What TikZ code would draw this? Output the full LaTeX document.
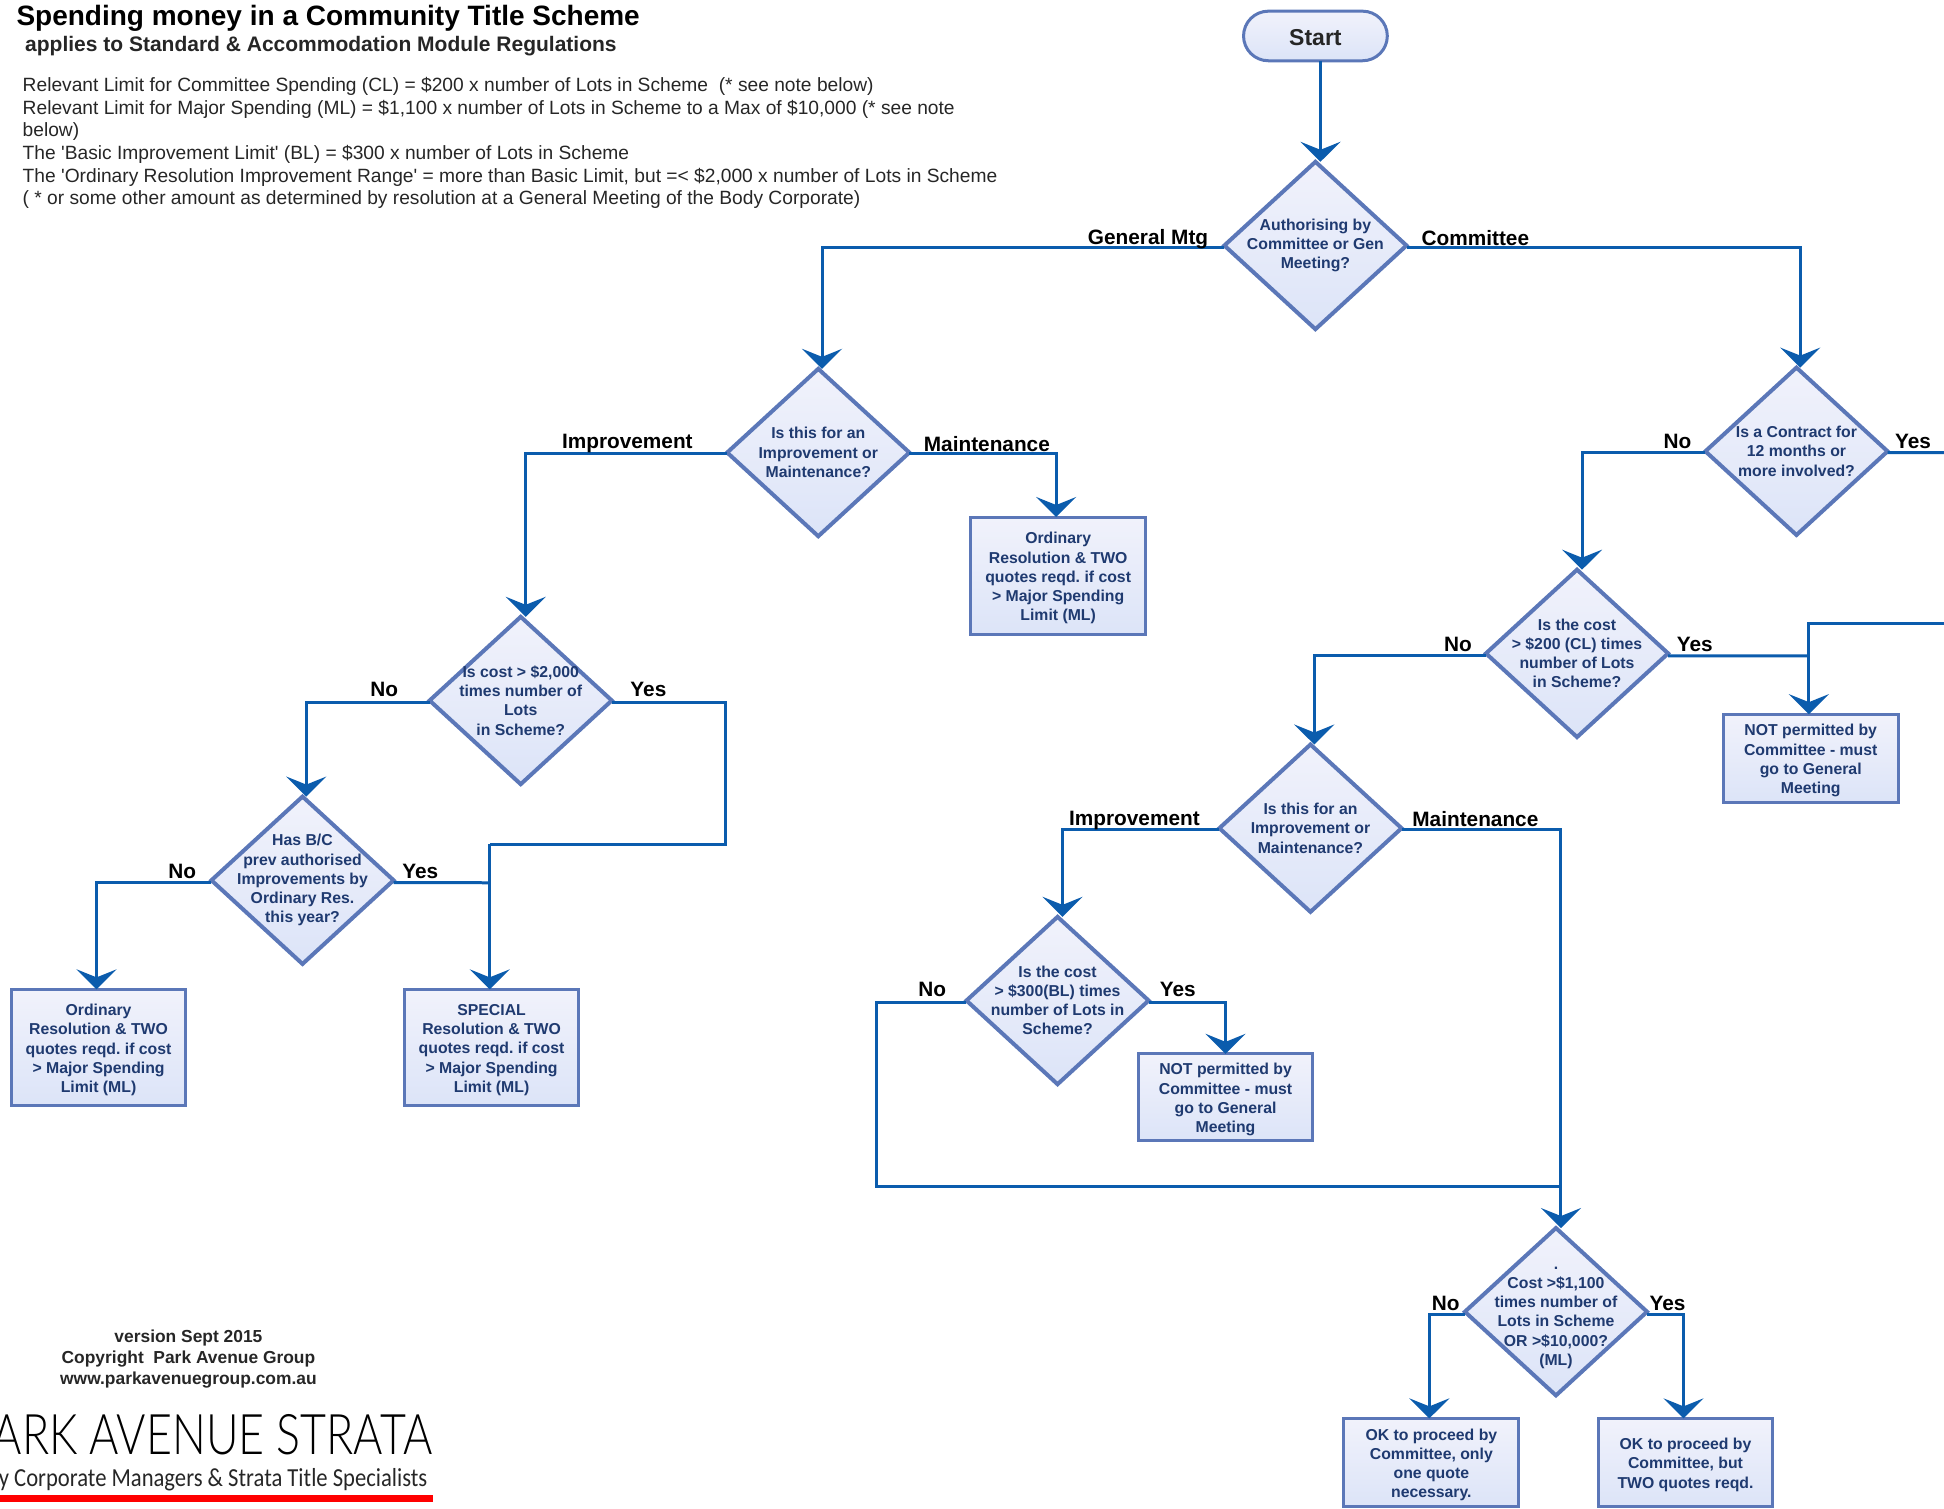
\documentclass[tikz,border=0pt]{standalone}
\usepackage{fontspec}
\setmainfont{Liberation Sans}
\newfontfamily\logofont[FakeStretch=0.8]{Lato Light}
\newfontfamily\logosubfont[FakeStretch=0.87]{Carlito}
\usetikzlibrary{arrows.meta}
\usetikzlibrary{shapes.geometric}
\usetikzlibrary{shapes.misc}
\definecolor{flowblue}{HTML}{0B5CAD}
\definecolor{edgeblue}{HTML}{5B77B8}
\definecolor{inkblue}{HTML}{1F3A70}
\definecolor{fillupper}{HTML}{F1F2FB}
\definecolor{filllower}{HTML}{DCE4F8}
\frenchspacing
\tikzset{
    flow/.style={draw=flowblue,line width=1.5pt},
    flowarrow/.style={flow,-{Stealth[length=10pt,width=20pt,inset=4pt]}},
    shaded/.style={draw=edgeblue,top color=fillupper,bottom color=filllower,outer sep=0pt,inner sep=0pt},
    decision/.style={shaded,diamond,line width=2pt,minimum width=91.1pt,minimum height=83.7pt},
    decisiontext/.style={text=inkblue,font=\bfseries\fontsize{7.9}{9.6}\selectfont,align=center,inner sep=0pt},
    outcome/.style={shaded,rectangle,line width=1.5pt,minimum width=87.4pt},
    outcometext/.style={decisiontext,yshift=-1.2pt},
    branch/.style={font=\bfseries\fontsize{10.4}{12}\selectfont,text=black,inner sep=0pt},
    terminal/.style={shaded,rounded rectangle,line width=1.5pt,minimum width=71.9pt,minimum height=24.8pt},
    terminaltext/.style={font=\bfseries\fontsize{11.5}{13}\selectfont,text=black!85,inner sep=0pt,yshift=-0.8pt},
    notes/.style={align=left,anchor=north west,inner sep=0pt,text=black!85,font=\fontsize{9.6}{11.35}\selectfont}
}
\begin{document}
\begin{tikzpicture}[x=0.62pt,y=-0.62pt]
    \useasboundingbox (0,0) rectangle (1568,1217);

    \node[anchor=west,inner sep=0pt,font=\bfseries\fontsize{14}{16}\selectfont] (title) at (13,15) {Spending money in a Community Title Scheme};
    \node[anchor=west,inner sep=0pt,text=black!85,font=\bfseries\fontsize{10.5}{12}\selectfont] (subtitle) at (20,37) {applies to Standard \& Accommodation Module Regulations};
    \node[notes] (limits) at (18,62) {Relevant Limit for Committee Spending (CL) = \$200 x number of Lots in Scheme\ \ (* see note below)\\
        Relevant Limit for Major Spending (ML) = \$1,100 x number of Lots in Scheme to a Max of \$10,000 (* see note\\
        below)\\
        The \textquotesingle Basic Improvement Limit\textquotesingle\ (BL) = \$300 x number of Lots in Scheme\\
        The \textquotesingle Ordinary Resolution Improvement Range\textquotesingle\ = more than Basic Limit, but =< \$2,000 x number of Lots in Scheme\\
        ( * or some other amount as determined by resolution at a General Meeting of the Body Corporate)};

    \node[terminal,label={[terminaltext]center:Start}] (start) at (1061,29) {};
    \node[decision,label={[decisiontext]center:{Authorising by\\Committee or Gen\\Meeting?}}] (auth) at (1061,198) {};
    \node[decision,label={[decisiontext]center:{Is this for an\\Improvement or\\Maintenance?}}] (purposeA) at (660,365) {};
    \node[decision,label={[decisiontext]center:{Is a Contract for\\12 months or\\more involved?}}] (contract) at (1449,364) {};
    \node[decision,label={[decisiontext]center:{Is the cost\\> \$200 (CL) times\\number of Lots\\in Scheme?}}] (costCL) at (1272,527) {};
    \node[decision,label={[decisiontext]center:{Is this for an\\Improvement or\\Maintenance?}}] (purposeB) at (1057,668) {};
    \node[decision,label={[decisiontext]center:{Is cost > \$2,000\\times number of\\Lots\\in Scheme?}}] (costOrd) at (420,565) {};
    \node[decision,label={[decisiontext]center:{Has B/C\\prev authorised\\Improvements by\\Ordinary Res.\\this year?}}] (prevAuth) at (244,710) {};
    \node[decision,label={[decisiontext]center:{Is the cost\\> \$300(BL) times\\number of Lots in\\Scheme?}}] (costBL) at (853,807) {};
    \node[decision,label={[decisiontext,yshift=-3pt]center:{.\\Cost >\$1,100\\times number of\\Lots in Scheme\\OR >\$10,000?\\(ML)}}] (costML) at (1255,1058) {};

    \node[outcome,minimum height=58.9pt,label={[outcometext]center:{Ordinary\\Resolution \& TWO\\quotes reqd. if cost\\> Major Spending\\Limit (ML)}}] (ordinaryA) at (853.5,464.5) {};
    \node[outcome,minimum height=44pt,label={[outcometext]center:{NOT permitted by\\Committee - must\\go to General\\Meeting}}] (notPermA) at (1460.5,611.5) {};
    \node[outcome,minimum height=43.4pt,label={[outcometext]center:{NOT permitted by\\Committee - must\\go to General\\Meeting}}] (notPermB) at (988.5,885) {};
    \node[outcome,minimum height=58.3pt,label={[outcometext]center:{Ordinary\\Resolution \& TWO\\quotes reqd. if cost\\> Major Spending\\Limit (ML)}}] (ordinaryB) at (79.5,845) {};
    \node[outcome,minimum height=58.3pt,label={[outcometext]center:{SPECIAL\\Resolution \& TWO\\quotes reqd. if cost\\> Major Spending\\Limit (ML)}}] (special) at (396.5,845) {};
    \node[outcome,minimum height=44pt,label={[outcometext]center:{OK to proceed by\\Committee, only\\one quote\\necessary.}}] (okOne) at (1154.5,1179.5) {};
    \node[outcome,minimum height=44pt,label={[outcometext]center:{OK to proceed by\\Committee, but\\TWO quotes reqd.}}] (okTwo) at (1359.5,1179.5) {};

    \coordinate (rightYes) at (1568,365);
    \coordinate (rightIn) at (1568,503);
    \coordinate (rightTurn) at (1459,529);
    \coordinate (bendYes) at (585,681);
    \coordinate (joinSpecial) at (395,681);
    \coordinate (joinPrev) at (395,712);
    \coordinate (bendNo) at (707,957);
    \coordinate (joinLower) at (1259,957);

    \draw[flowarrow] ([xshift=2.5pt]start.south) -- ([xshift=2.5pt]auth.north);
    \draw[flowarrow] ([yshift=-1.2pt]auth.west) -| ([xshift=1.9pt]purposeA.north);
    \draw[flowarrow] ([yshift=-1.2pt]auth.east) -| ([xshift=1.9pt]contract.north);
    \draw[flowarrow] ([yshift=-0.6pt]purposeA.west) -| ([xshift=2.5pt]costOrd.north);
    \draw[flowarrow] ([yshift=-0.6pt]purposeA.east) -| ([xshift=-1pt]ordinaryA.north);
    \draw[flowarrow] ([yshift=-1.2pt]costOrd.west) -| ([xshift=1.9pt]prevAuth.north);
    \draw[flow] ([yshift=-1.2pt]costOrd.east) -| (bendYes) -- (joinSpecial);
    \draw[flowarrow] (joinSpecial) -- (joinSpecial |- special.north);
    \draw[flow] ([yshift=-1.2pt]prevAuth.east) -- (joinPrev);
    \draw[flowarrow] ([yshift=-1.2pt]prevAuth.west) -| ([xshift=-1pt]ordinaryB.north);
    \draw[flowarrow] ([yshift=-0.6pt]contract.west) -| ([xshift=2.5pt]costCL.north);
    \draw[flow] ([yshift=-0.6pt]contract.east) -- (rightYes);
    \draw[flowarrow] ([yshift=-1.2pt]costCL.west) -| ([xshift=1.9pt]purposeB.north);
    \draw[flow] ([yshift=-1.2pt]costCL.east) -- (rightTurn);
    \draw[flow] (rightIn) -| (rightTurn);
    \draw[flowarrow] (rightTurn) -- (notPermA.north -| rightTurn);
    \draw[flowarrow] ([yshift=-0.6pt]purposeB.west) -| ([xshift=2.5pt]costBL.north);
    \draw[flowarrow] ([yshift=-0.6pt]purposeB.east) -| ([xshift=2.5pt]costML.north);
    \draw[flowarrow] ([yshift=-1.2pt]costBL.east) -| (notPermB.north);
    \draw[flow] ([yshift=-1.2pt]costBL.west) -| (bendNo) -- (joinLower);
    \draw[flowarrow] ([yshift=-1.2pt]costML.west) -| ([xshift=-1pt]okOne.north);
    \draw[flowarrow] ([yshift=-1.2pt]costML.east) -| ([xshift=-1pt]okTwo.north);

    \node[branch] (lblGeneral) at (926,193) {General Mtg};
    \node[branch] (lblCommittee) at (1190,192) {Committee};
    \node[branch] (lblImproveA) at (506,358) {Improvement};
    \node[branch] (lblMaintainA) at (796,358) {Maintenance};
    \node[branch] (lblContractNo) at (1353,356) {No};
    \node[branch] (lblContractYes) at (1543,356) {Yes};
    \node[branch] (lblCostClNo) at (1176,520) {No};
    \node[branch] (lblCostClYes) at (1367,520) {Yes};
    \node[branch] (lblOrdNo) at (310,556) {No};
    \node[branch] (lblOrdYes) at (523,556) {Yes};
    \node[branch] (lblPrevNo) at (147,703) {No};
    \node[branch] (lblPrevYes) at (339,703) {Yes};
    \node[branch] (lblImproveB) at (915,662) {Improvement};
    \node[branch] (lblMaintainB) at (1190,661) {Maintenance};
    \node[branch] (lblCostBlNo) at (752,798) {No};
    \node[branch] (lblCostBlYes) at (950,798) {Yes};
    \node[branch] (lblCostMlNo) at (1166,1051) {No};
    \node[branch] (lblCostMlYes) at (1345,1051) {Yes};

    \node[inner sep=0pt,align=center,text=black!85,font=\bfseries\fontsize{8.7}{10.5}\selectfont] (version) at (152,1096) {version Sept 2015\\Copyright\ \ Park Avenue Group\\www.parkavenuegroup.com.au};
    \node[anchor=base east,inner sep=0pt,font=\logofont\fontsize{28}{30}\selectfont] (logoName) at (349,1173) {ARK AVENUE STRATA};
    \node[anchor=base east,inner sep=0pt,text=black!85,font=\logosubfont\fontsize{13}{15}\selectfont] (logoTag) at (345,1199) {y Corporate Managers \& Strata Title Specialists};
    \fill[red] (0,1206) rectangle (349,1211.5);
\end{tikzpicture}
\end{document}
